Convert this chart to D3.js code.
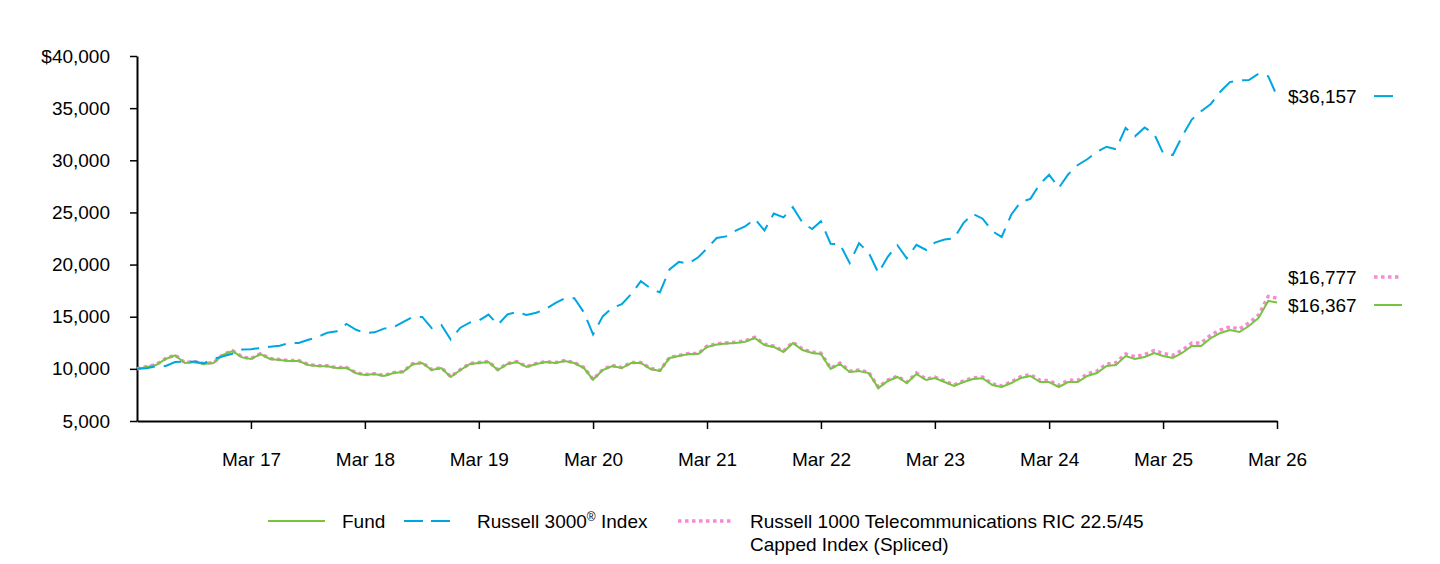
<!DOCTYPE html>
<html>
<head>
<meta charset="utf-8">
<script src="https://cdn.jsdelivr.net/npm/d3@7"></script>
<style>
  body { margin: 0; background: #fff; }
  svg text { font-family: "Liberation Sans", Arial, sans-serif; fill: #000; }
</style>
</head>
<body>
<div id="chart"></div>
<script>
// monthly values, Mar 2016 .. Mar 2026
const startMonth = new Date(2016, 2, 1);

const fundValues = [
  10000, 10180, 10370, 10950, 11300, 10560, 10660, 10470, 10560, 11330,
  11700, 11100, 10950, 11420, 10950, 10850, 10750, 10750, 10370, 10270, 10250, 10080,
  10100, 9580, 9410, 9500, 9320, 9600, 9700, 10450, 10560, 9890, 10080, 9220,
  9890, 10470, 10560, 10660, 9890, 10470, 10660, 10180, 10470, 10660, 10560, 10750,
  10560, 10080, 8950, 9890, 10270, 10080, 10560, 10560, 9990, 9800, 11040, 11230,
  11420, 11420, 12100, 12330, 12420, 12480, 12600, 12960, 12290, 12100, 11620, 12480,
  11810, 11520, 11420, 9990, 10470, 9700, 9800, 9600, 8160, 8840, 9220, 8640,
  9510, 8930, 9120, 8740, 8360, 8740, 9030, 9100, 8450, 8260, 8640, 9120,
  9320, 8740, 8740, 8260, 8740, 8740, 9320, 9600, 10270, 10370, 11230, 10950,
  11140, 11520, 11230, 11040, 11520, 12190, 12190, 12960, 13440, 13730, 13530, 14110,
  14880, 16510, 16367
];

const russell3000Values = [
  10000, 10060, 10250, 10280, 10660, 10680, 10700, 10520, 10950, 11200,
  11450, 11850, 11880, 12000, 12130, 12220, 12470, 12490, 12790, 13060, 13470, 13600,
  14300, 13750, 13440, 13500, 13860, 14000, 14480, 14970, 14980, 13900, 14200, 12800,
  13950, 14450, 14620, 15200, 14230, 15230, 15450, 15160, 15380, 15720, 16300, 16770,
  16770, 15400, 13300, 15030, 15850, 16200, 17160, 18400, 17720, 17330, 19540, 20260,
  20100, 20700, 21550, 22550, 22700, 23250, 23650, 24380, 23270, 24900, 24530, 25500,
  24000, 23400, 24150, 22000, 21950, 20150, 22040, 21150, 19200, 20750, 21850, 20600,
  21900, 21400, 22100, 22400, 22500, 24000, 24850, 24400, 23200, 22650, 24800, 26000,
  26300, 27750, 28620, 27350, 28650, 29550, 30100, 30800, 31300, 31050, 33100, 32300,
  33150, 32500, 30700, 30500, 32300, 33900, 34700, 35400, 36600, 37500, 37650, 37700,
  38300, 38050, 36157
];

const telecomValues = [
  10000, 10220, 10410, 10990, 11340, 10600, 10700, 10510, 10600, 11370,
  11740, 11140, 10990, 11460, 10990, 10890, 10790, 10790, 10410, 10310, 10290, 10120,
  10140, 9620, 9450, 9540, 9360, 9640, 9740, 10490, 10600, 9930, 10120, 9260,
  9930, 10510, 10600, 10700, 9930, 10510, 10700, 10220, 10510, 10700, 10600, 10790,
  10600, 10120, 8990, 9940, 10320, 10130, 10610, 10610, 10040, 9850, 11090, 11290,
  11480, 11480, 12170, 12400, 12490, 12550, 12670, 13040, 12370, 12180, 11700, 12560,
  11890, 11600, 11500, 10070, 10550, 9780, 9880, 9680, 8230, 8920, 9300, 8720,
  9600, 9020, 9220, 8840, 8460, 8840, 9140, 9210, 8560, 8370, 8760, 9250,
  9460, 8880, 8890, 8410, 8900, 8910, 9500, 9790, 10470, 10580, 11440, 11170,
  11370, 11760, 11480, 11300, 11790, 12470, 12480, 13250, 13730, 14020, 13820, 14400,
  15150, 16950, 16777
];

const yTicks = [5000, 10000, 15000, 20000, 25000, 30000, 35000, 40000];
const xTickLabels = ["Mar 17", "Mar 18", "Mar 19", "Mar 20", "Mar 21", "Mar 22", "Mar 23", "Mar 24", "Mar 25", "Mar 26"];
const endLabels = ["$36,157", "$16,777", "$16,367"];

const width = 1440;
const height = 564;
const plotLeft = 137, plotRight = 1277, plotTop = 56, plotBottom = 421;

const colors = { fund: "#77c43f", russell: "#00a6e0", telecom: "#f58ad6" };
const font = 19;

const svg = d3.select("#chart")
  .append("svg")
  .attr("width", width)
  .attr("height", height);

const months = fundValues.map((v, i) => d3.timeMonth.offset(startMonth, i));

const x = d3.scaleTime()
  .domain([months[0], months[months.length - 1]])
  .range([plotLeft, plotRight]);

const y = d3.scaleLinear()
  .domain([5000, 40000])
  .range([plotBottom, plotTop]);

// Axes
const yAxis = d3.axisLeft(y)
  .tickValues(yTicks)
  .tickSize(7)
  .tickSizeOuter(0)
  .tickPadding(20)
  .tickFormat(d => d === 40000 ? "$" + d3.format(",")(d) : d3.format(",")(d));

svg.append("g")
  .attr("transform", `translate(${plotLeft},0)`)
  .call(yAxis)
  .call(g => g.select(".domain").attr("stroke", "#000").attr("stroke-width", 2))
  .call(g => g.selectAll(".tick line").attr("stroke", "#000").attr("stroke-width", 1.5))
  .call(g => g.selectAll(".tick text")
    .attr("font-size", font)
    .attr("font-family", "Liberation Sans, Arial, sans-serif")
    .attr("fill", "#000"));

const xTickDates = xTickLabels.map((t, i) => new Date(2017 + i, 2, 1));

const xAxis = d3.axisBottom(x)
  .tickValues(xTickDates)
  .tickSize(8)
  .tickSizeOuter(0)
  .tickPadding(24)
  .tickFormat((d, i) => xTickLabels[i]);

svg.append("g")
  .attr("transform", `translate(0,${plotBottom})`)
  .call(xAxis)
  .call(g => g.select(".domain").attr("stroke", "#000").attr("stroke-width", 2))
  .call(g => g.selectAll(".tick line").attr("stroke", "#000").attr("stroke-width", 1.5))
  .call(g => g.selectAll(".tick text")
    .attr("font-size", font)
    .attr("font-family", "Liberation Sans, Arial, sans-serif")
    .attr("fill", "#000"));

// Lines
const line = d3.line()
  .x((d, i) => x(months[i]))
  .y(d => y(d));

svg.append("path")
  .datum(telecomValues)
  .attr("fill", "none")
  .attr("stroke", colors.telecom)
  .attr("stroke-width", 3.5)
  .attr("stroke-dasharray", "3.5,3.5")
  .attr("d", line);

svg.append("path")
  .datum(fundValues)
  .attr("fill", "none")
  .attr("stroke", colors.fund)
  .attr("stroke-width", 2)
  .attr("d", line);

svg.append("path")
  .datum(russell3000Values)
  .attr("fill", "none")
  .attr("stroke", colors.russell)
  .attr("stroke-width", 2)
  .attr("stroke-dasharray", "18,9")
  .attr("d", line);

// End labels
const ends = [
  { text: endLabels[0], y: y(russell3000Values[russell3000Values.length - 1]), color: colors.russell, dash: null, w: 2, len: 19 },
  { text: endLabels[1], y: 277, color: colors.telecom, dash: "3.5,3.5", w: 3.5, len: 27 },
  { text: endLabels[2], y: 305, color: colors.fund, dash: null, w: 2, len: 28 }
];

ends.forEach(e => {
  svg.append("text")
    .attr("x", 1288)
    .attr("y", e.y)
    .attr("dy", "0.35em")
    .attr("font-size", font)
    .text(e.text);
  svg.append("line")
    .attr("x1", 1374).attr("x2", 1374 + e.len)
    .attr("y1", e.y).attr("y2", e.y)
    .attr("stroke", e.color)
    .attr("stroke-width", e.w)
    .attr("stroke-dasharray", e.dash);
});

// Legend
const legend = svg.append("g");
const ly = 521;

legend.append("line")
  .attr("x1", 268).attr("x2", 325).attr("y1", ly).attr("y2", ly)
  .attr("stroke", colors.fund).attr("stroke-width", 2);
legend.append("text")
  .attr("x", 342).attr("y", ly).attr("dy", "0.35em")
  .attr("font-size", font).text("Fund");

legend.append("line")
  .attr("x1", 404).attr("x2", 450).attr("y1", ly).attr("y2", ly)
  .attr("stroke", colors.russell).attr("stroke-width", 2)
  .attr("stroke-dasharray", "19,8");
const rt = legend.append("text")
  .attr("x", 477).attr("y", ly + 7)
  .attr("font-size", font);
rt.append("tspan").text("Russell 3000");
rt.append("tspan").attr("font-size", 12).attr("dy", -7).text("®");
rt.append("tspan").attr("dy", 7).text(" Index");

legend.append("line")
  .attr("x1", 678).attr("x2", 732).attr("y1", ly).attr("y2", ly)
  .attr("stroke", colors.telecom).attr("stroke-width", 3.5)
  .attr("stroke-dasharray", "3.5,3.5");
legend.append("text")
  .attr("x", 750).attr("y", ly + 7)
  .attr("font-size", font).text("Russell 1000 Telecommunications RIC 22.5/45");
legend.append("text")
  .attr("x", 750).attr("y", ly + 30)
  .attr("font-size", font).text("Capped Index (Spliced)");
</script>
</body>
</html>
